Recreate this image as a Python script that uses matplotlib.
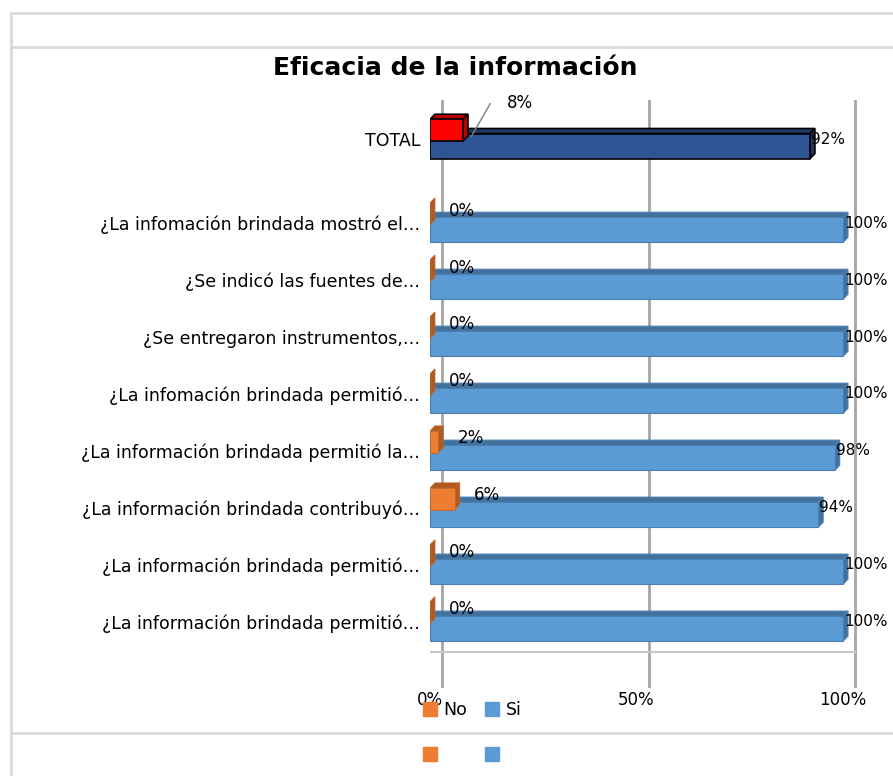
import numpy as np
import matplotlib.pyplot as plt
from matplotlib.patches import Polygon, Patch
from matplotlib.lines import Line2D

plt.rcParams['font.family'] = ['DejaVu Sans']

# data
categories = ['TOTAL',
              '¿La infomación brindada mostró el…',
              '¿Se indicó las fuentes de…',
              '¿Se entregaron instrumentos,…',
              '¿La infomación brindada permitió…',
              '¿La información brindada permitió la…',
              '¿La información brindada contribuyó…',
              '¿La información brindada permitió…',
              '¿La información brindada permitió…']
no_vals = [8, 0, 0, 0, 0, 2, 6, 0, 0]
si_vals = [92, 100, 100, 100, 100, 98, 94, 100, 100]
series = ['No', 'Si']
ticks = [0, 50, 100]
tick_labels = ['0%', '50%', '100%']

W, H = 893, 776
fig = plt.figure(figsize=(W / 100, H / 100), dpi=100)

def fx(px):
    return px / W

def fy(py):
    return 1 - py / H

# outer frame lines
for yy in [13, 47, 733]:
    fig.add_artist(Line2D([fx(11), 1], [fy(yy), fy(yy)], color='#D9D9D9', lw=2))
fig.add_artist(Line2D([fx(11), fx(11)], [fy(13), 0], color='#D9D9D9', lw=2))

fig.text(fx(455), fy(68), 'Eficacia de la información', ha='center', va='center',
         fontsize=18, fontweight='bold')

ax = fig.add_axes([fx(430), fy(688), 105 * 4.13 / W, (688 - 100) / H])
ax.set_xlim(0, 105)
ax.set_ylim(8.16, -2.16)

# TOTAL sits a bit further from the rest
pos = np.arange(len(categories)) - 1.0
pos[0] = -1.47

dx, dy = 1.2, 0.09  # fake 3d depth

def bar3d(y, w, h, face, top, side, edge, lw, z):
    ax.barh(y, w, height=h, color=face, edgecolor=edge, linewidth=lw, zorder=z)
    y0 = y - h / 2
    ax.add_patch(Polygon([(0, y0), (w, y0), (w + dx, y0 - dy), (dx, y0 - dy)],
                         closed=True, fc=top, ec=edge, lw=lw, zorder=z - 0.5))
    ax.add_patch(Polygon([(w, y0), (w + dx, y0 - dy), (w + dx, y0 + h - dy), (w, y0 + h)],
                         closed=True, fc=side, ec=edge, lw=lw, zorder=z - 0.5))

# gridlines on the back wall
for t in ticks:
    ax.axvline(t + 3, color='#A6A6A6', lw=2, zorder=1)
ax.plot([0, 103], [7.53, 7.53], color='#C8C8C8', lw=1.5, zorder=1)

for i in range(len(categories)):
    if i == 0:
        bar3d(pos[i] + 0.12, si_vals[i], 0.44, '#2F5597', '#203864', '#203864', 'black', 1.2, 4)
        bar3d(pos[i] - 0.16, no_vals[i], 0.38, '#FF0000', '#C00000', '#C00000', 'black', 1.2, 6)
    else:
        bar3d(pos[i] + 0.12, si_vals[i], 0.44, '#5B9BD5', '#41719C', '#41719C', '#4A7FB0', 0.8, 4)
        bar3d(pos[i] - 0.16, no_vals[i], 0.38, '#ED7D31', '#AE5A21', '#AE5A21', '#C0652A', 0.6, 6)

    ax.text(si_vals[i] + 0.3, pos[i], f'{si_vals[i]}%', ha='left', va='center',
            fontsize=11, clip_on=False, zorder=8)
    if i == 0:
        ax.annotate(f'{no_vals[i]}%', xy=(no_vals[i] + 2, pos[i] - 0.05),
                    xytext=(21.8, pos[i] - 0.63), ha='center', va='center', fontsize=12,
                    arrowprops=dict(arrowstyle='-', color='#7F7F7F', lw=1,
                                    connectionstyle='angle,angleA=0,angleB=60,rad=0',
                                    shrinkA=10, shrinkB=0), zorder=8)
    else:
        ax.text(no_vals[i] + 4.6, pos[i] - 0.22, f'{no_vals[i]}%', ha='left', va='center',
                fontsize=12, zorder=8)

ax.set_yticks(pos)
ax.set_yticklabels(categories, fontsize=12.5)
ax.set_xticks(ticks)
ax.set_xticklabels(tick_labels, fontsize=12)
ax.tick_params(axis='both', length=0)
ax.tick_params(axis='y', pad=7)
ax.tick_params(axis='x', pad=2)
for s in ax.spines.values():
    s.set_visible(False)

handles = [Patch(color='#ED7D31'), Patch(color='#5B9BD5')]
fig.legend(handles, series, loc='center left', bbox_to_anchor=(fx(407), fy(710)), ncol=2,
           frameon=False, fontsize=12.5, handlelength=0.8, handleheight=0.8,
           handletextpad=0.4, columnspacing=1.0)
fig.legend(handles, ['', ''], loc='center left', bbox_to_anchor=(fx(407), fy(755)), ncol=2,
           frameon=False, fontsize=12.5, handlelength=0.8, handleheight=0.8,
           handletextpad=0.4, columnspacing=2.4)

fig.savefig('out.png', dpi=100)
